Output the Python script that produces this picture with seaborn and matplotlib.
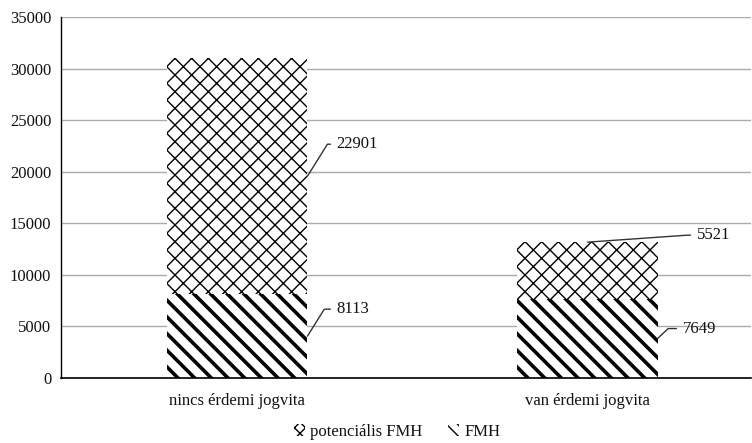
import numpy as np
import pandas as pd
import matplotlib
matplotlib.use("Agg")
import matplotlib.pyplot as plt
import matplotlib.patches as mpatches
import seaborn as sns

categories = ["nincs érdemi jogvita", "van érdemi jogvita"]
fmh = [8113, 7649]
potencialis = [22901, 5521]
series_labels = ["potenciális FMH", "FMH"]

df = pd.DataFrame({"kat": categories, "fmh": fmh, "pot": potencialis})
df["total"] = df["fmh"] + df["pot"]

sns.set_style("white")
plt.rcParams["font.family"] = ["Liberation Serif", "DejaVu Serif"]
plt.rcParams["font.size"] = 12

fig = plt.figure(figsize=(7.52, 4.43), dpi=100)
ax = fig.add_axes([0.0811, 0.1467, 0.918, 0.815])

def hatch_bars(bars, hatch, lw):
    for p in bars:
        p.set_hatch(hatch)
        if hasattr(p, "set_hatch_linewidth"):
            p.set_hatch_linewidth(lw)

sns.barplot(data=df, x="kat", y="total", color="white", edgecolor="black",
            linewidth=0, width=0.4, ax=ax)
top_bars = list(ax.patches)
hatch_bars(top_bars, "xx", 1.0)
sns.barplot(data=df, x="kat", y="fmh", color="white", edgecolor="black",
            linewidth=0, width=0.4, ax=ax)
bot_bars = [p for p in ax.patches if p not in top_bars]
hatch_bars(bot_bars, "\\\\", 2.6)

ax.set_xlim(-0.504, 1.468)
ax.set_ylim(0, 35000)
ax.set_yticks(np.arange(0, 35001, 5000))
ax.yaxis.grid(True, color="#ababab", linewidth=1.0)
ax.set_axisbelow(True)
ax.set_xlabel("")
ax.set_ylabel("")
for s in ["top", "right"]:
    ax.spines[s].set_visible(False)
ax.spines["left"].set_color("black")
ax.spines["bottom"].set_color("black")
ax.spines["left"].set_linewidth(1.0)
ax.spines["bottom"].set_linewidth(1.2)
ax.tick_params(length=0, pad=7, colors="#111111")
ax.tick_params(axis="x", pad=11)

# value labels with leader lines
half = 0.2
notes = [
    (0 + half, fmh[0] + potencialis[0] / 2, potencialis[0], (29, 32), 58),
    (0 + half, fmh[0] / 2, fmh[0], (29, 27), 58),
    (1, fmh[1] + potencialis[1], potencialis[1], (109, 7), 4),
    (1 + half, fmh[1] / 2, fmh[1], (25, 10), 43),
]
for x, y, v, off, ang in notes:
    ax.annotate(str(v), xy=(x, y), xytext=off, textcoords="offset pixels",
                ha="left", va="center", color="#111111",
                arrowprops=dict(arrowstyle="-", color="#333333", lw=1.0,
                                shrinkA=2, shrinkB=0, relpos=(0, 0.5),
                                connectionstyle=f"angle,angleA=180,angleB={ang},rad=0"))

h_pot = mpatches.Patch(facecolor="white", edgecolor="black", hatch="xxx", linewidth=0)
h_fmh = mpatches.Patch(facecolor="white", edgecolor="black", hatch="\\\\\\", linewidth=0)
fig.legend([h_pot, h_fmh], series_labels, loc="center",
           bbox_to_anchor=(397 / 752, 1 - 432 / 443), ncol=2, frameon=False,
           handlelength=0.7, handleheight=0.7, handletextpad=0.3,
           columnspacing=1.5, labelcolor="#111111")

fig.savefig("out.png", dpi=100)
